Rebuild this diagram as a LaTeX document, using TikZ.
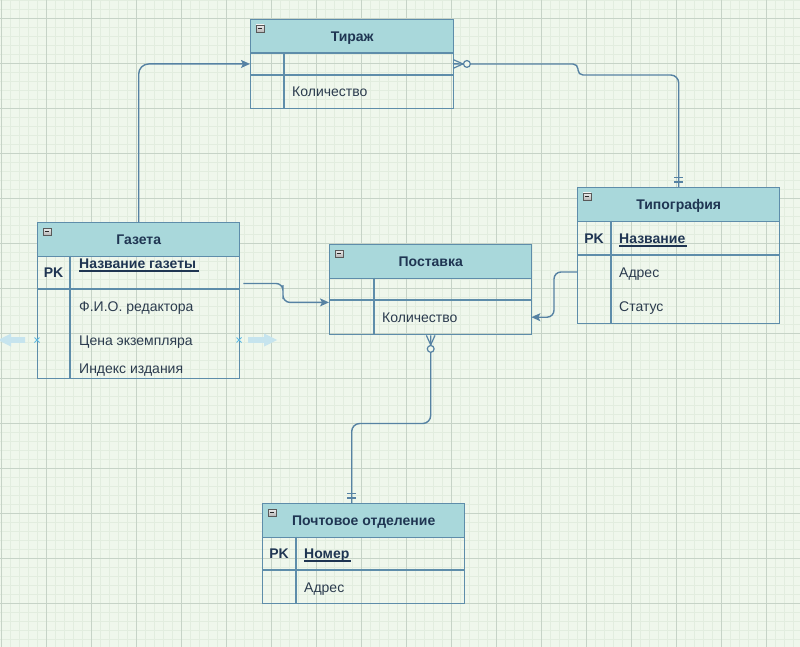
\documentclass[tikz,border=0pt]{standalone}
\usepackage{fontspec}
\setmainfont{Liberation Sans}
\usetikzlibrary{arrows.meta}

\definecolor{bgc}{HTML}{EFF7EC}
\definecolor{gridminor}{HTML}{E2EDDF}
\definecolor{gridmajor}{HTML}{C6D3C7}
\definecolor{hdrfill}{HTML}{A9D8DB}
\definecolor{framec}{HTML}{5E8DAA}
\definecolor{linkc}{HTML}{5682A3}
\definecolor{ink}{HTML}{1F3552}
\definecolor{bodyink}{HTML}{2B3B4E}
\definecolor{handlec}{HTML}{C6E4EE}
\definecolor{handlemark}{HTML}{5DB9E2}

\tikzset{
  tbl/.style={draw=framec, line width=1.4pt, rectangle, inner sep=0pt, anchor=north west},
  hdr/.style={fill=hdrfill, draw=framec, line width=1.4pt, rectangle, inner sep=0pt,
    anchor=north west, minimum height=33.5pt, text height=11pt, text depth=0pt,
    font=\fontsize{14}{16}\selectfont\bfseries, text=ink},
  rowbox/.style={rectangle, inner sep=0pt, anchor=north west},
  rowline/.style={draw=framec, line width=1.2pt},
  fld/.style={anchor=base west, inner sep=0pt, font=\fontsize{14}{16}\selectfont, text=bodyink},
  keyfld/.style={anchor=base west, inner sep=0pt, font=\fontsize{14}{16}\selectfont\bfseries, text=ink},
  pklabel/.style={anchor=base, inner sep=0pt, font=\fontsize{14}{16}\selectfont\bfseries, text=ink},
  ul/.style={draw=ink, line width=1.8pt},
  link/.style={draw=linkc, line width=1.4pt, rounded corners=8pt},
  tip/.style={-{Stealth[length=9pt,width=8pt,inset=2pt]}},
  collapsebox/.pic={
    \draw[draw=gray!70!black, top color=gray!15, bottom color=gray!60, line width=0.6pt]
      (0,0) rectangle (8,7.5);
    \draw[line width=1.4pt, black!85] (1.8,3.75) -- (6.2,3.75);
  },
  manyopt/.pic={
    \draw[draw=linkc, line width=1.2pt] (0,-4.3) -- (9.5,0) -- (0,4.3);
    \draw[draw=linkc, fill=bgc, line width=1.2pt] (13.5,0) circle (3.4);
  },
  onlyone/.pic={
    \draw[draw=linkc, line width=1.2pt] (5,-4.5) -- (5,4.5);
    \draw[draw=linkc, line width=1.2pt] (9.5,-4.5) -- (9.5,4.5);
  },
}

\begin{document}
\begin{tikzpicture}[x=1pt,y=-1pt]
\useasboundingbox (0,0) rectangle (800,647);
\fill[bgc] (0,0) rectangle (800,647);

% background grid
\foreach \x in {1,10,...,793} \draw[gridminor, line width=0.6pt] (\x,0) -- (\x,647);
\foreach \y in {0,9,...,639} \draw[gridminor, line width=0.6pt] (0,\y) -- (800,\y);
\foreach \x in {1,46,...,766} \draw[gridmajor, line width=0.8pt] (\x,0) -- (\x,647);
\foreach \y in {18,63,...,603} \draw[gridmajor, line width=0.8pt] (0,\y) -- (800,\y);

% ---------- Тираж ----------
\node[tbl, minimum width=203pt, minimum height=89pt] (tirazh) at (250,19) {};
\node[hdr, minimum width=203pt] (tirazh-h) at (250,19) {Тираж};
\node[rowbox, minimum width=203pt, minimum height=22.5pt] (tirazh-r1) at (250,52.5) {};
\draw[rowline] (250,75) -- (453,75);
\draw[rowline] (284,52.5) -- (284,108);
\node[fld] (tirazh-f1) at (292,97) {Количество};
\pic at (256,25) {collapsebox};

% ---------- Газета ----------
\node[tbl, minimum width=202pt, minimum height=156pt] (gazeta) at (37,222) {};
\node[hdr, minimum width=202pt] (gazeta-h) at (37,222) {Газета};
\node[rowbox, minimum width=202pt, minimum height=33.5pt] (gazeta-pk) at (37,255.5) {};
\draw[rowline] (37,289) -- (239,289);
\draw[rowline] (70,255.5) -- (70,378);
\node[pklabel] (gazeta-pkl) at (53.5,277.5) {PK};
\node[keyfld] (gazeta-k) at (79,268.5) {Название газеты};
\draw[ul] (gazeta-k.base west) ++(0,2.8) -- ++(120,0);
\node[fld] (gazeta-f1) at (79,311.5) {Ф.И.О. редактора};
\node[fld] (gazeta-f2) at (79,345) {Цена экземпляра};
\node[fld] (gazeta-f3) at (79,373) {Индекс издания};
\pic at (43,228) {collapsebox};

% ---------- Поставка ----------
\node[tbl, minimum width=202pt, minimum height=90pt] (postavka) at (329,244) {};
\node[hdr, minimum width=202pt] (postavka-h) at (329,244) {Поставка};
\node[rowbox, minimum width=202pt, minimum height=22.5pt] (postavka-r1) at (329,277.5) {};
\node[rowbox, minimum width=202pt, minimum height=34pt] (postavka-r2) at (329,300) {};
\draw[rowline] (329,300) -- (531,300);
\draw[rowline] (374,277.5) -- (374,334);
\node[fld] (postavka-f1) at (382,322) {Количество};
\pic at (335,250) {collapsebox};

% ---------- Типография ----------
\node[tbl, minimum width=202pt, minimum height=136pt] (tipogr) at (577,187) {};
\node[hdr, minimum width=202pt] (tipogr-h) at (577,187) {Типография};
\node[rowbox, minimum width=202pt, minimum height=68pt] (tipogr-b) at (577,255) {};
\draw[rowline] (577,255) -- (779,255);
\draw[rowline] (611,220.5) -- (611,323);
\node[pklabel] (tipogr-pkl) at (594,243.5) {PK};
\node[keyfld] (tipogr-k) at (619,243) {Название};
\draw[ul] (tipogr-k.base west) ++(0,2.6) -- ++(68,0);
\node[fld] (tipogr-f1) at (619,277.5) {Адрес};
\node[fld] (tipogr-f2) at (619,311) {Статус};
\pic at (583,193) {collapsebox};

% ---------- Почтовое отделение ----------
\node[tbl, minimum width=202pt, minimum height=100pt] (pochta) at (262,503) {};
\node[hdr, minimum width=202pt] (pochta-h) at (262,503) {Почтовое отделение};
\draw[rowline] (262,570) -- (464,570);
\draw[rowline] (296,536.5) -- (296,603);
\node[pklabel] (pochta-pkl) at (279,558.5) {PK};
\node[keyfld] (pochta-k) at (304,558) {Номер};
\draw[ul] (pochta-k.base west) ++(0,2.8) -- ++(47,0);
\node[fld] (pochta-f1) at (304,592) {Адрес};
\pic at (268,509) {collapsebox};

% ---------- connectors ----------
\coordinate (c2a) at (578,64);
\coordinate (c2d) at (578,75);
\coordinate (c3bend) at (283,292);
\coordinate (c4bend) at (554,295);
\coordinate (c5bend) at (390,423.5);

\draw[link, rounded corners=10pt, tip] (gazeta.north) |- (tirazh-r1.west);

\draw[link, rounded corners=5pt] (tirazh-r1.east) -- (c2a) -- (c2d)
  [rounded corners=8pt] -| (tipogr.north);
\pic at (tirazh-r1.east) {manyopt};
\pic[rotate=90] at (tipogr.north) {onlyone};

\draw[link, rounded corners=7pt, tip] ([xshift=4pt,yshift=-11pt]gazeta-pk.east)
  -| (c3bend) |- ([yshift=-2pt]postavka-r1.south west);

\draw[link, rounded corners=7pt, tip] ([yshift=-17pt]tipogr-b.north west)
  -| (c4bend) |- (postavka-r2.east);

\draw[link] (postavka.south) |- (c5bend) -| ([xshift=-12pt]pochta.north);
\pic[rotate=-90] at (postavka.south) {manyopt};
\pic[rotate=90] at ([xshift=-12pt]pochta.north) {onlyone};

% ---------- resize handles beside Газета ----------
\fill[handlec] (-2,340) -- (11,333.5) -- (11,337.2) -- (25,337.2) -- (25,342.8)
  -- (11,342.8) -- (11,346.5) -- cycle;
\fill[handlec] (277,340) -- (264,333.5) -- (264,337.2) -- (248,337.2) -- (248,342.8)
  -- (264,342.8) -- (264,346.5) -- cycle;
\draw[handlemark, line width=1pt] (34.5,337.5) -- (39.5,342.5) (34.5,342.5) -- (39.5,337.5);
\draw[handlemark, line width=1pt] (236.5,337.5) -- (241.5,342.5) (236.5,342.5) -- (241.5,337.5);
\end{tikzpicture}
\end{document}
